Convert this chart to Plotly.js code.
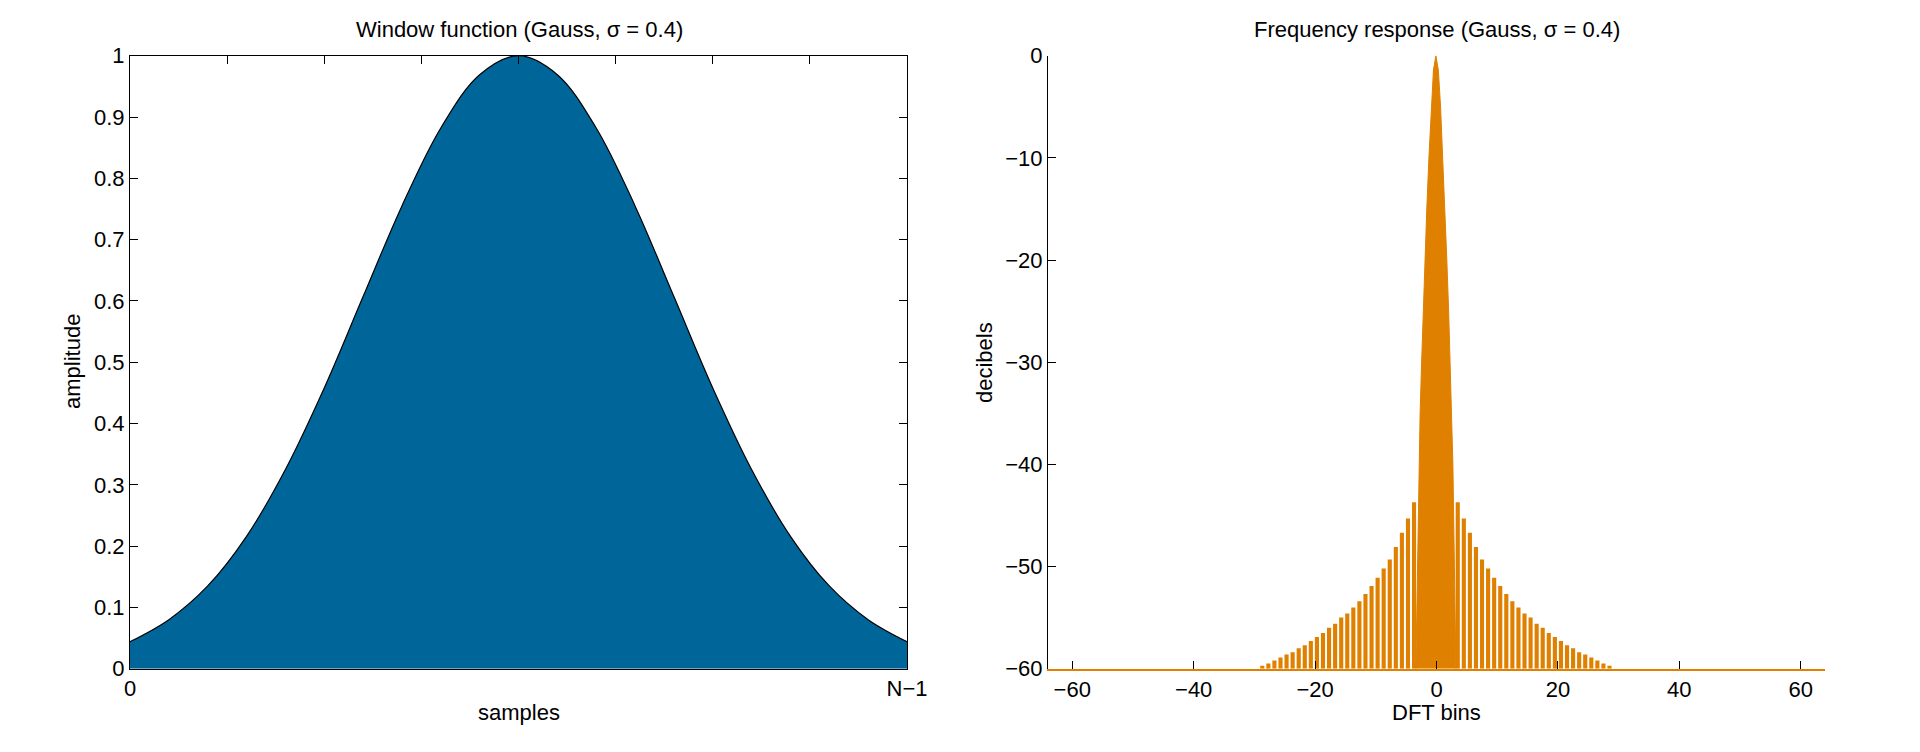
<!DOCTYPE html>
<html><head><meta charset="utf-8">
<script src="https://cdn.plot.ly/plotly-3.0.1.min.js"></script>
<style>html,body{margin:0;padding:0;background:#fff}#chart{width:1920px;height:752px}</style>
</head><body><div id="chart"></div>
<script>
// Window function (normalised sample position 0 .. N-1)
const windowX = [0,0.05,0.1,0.15,0.2,0.25,0.3,0.35,0.4,0.45,0.5,0.55,0.6,0.65,0.7,0.75,0.8,0.85,0.9,0.95,1];
const windowAmp = [0.044,0.080,0.135,0.216,0.325,0.458,0.607,0.755,0.882,0.969,1.000,0.969,0.882,0.755,0.607,0.458,0.325,0.216,0.135,0.080,0.044];
const windowTickVals = [0,0.125,0.25,0.375,0.5,0.625,0.75,0.875,1];
const windowTickText = ['0','N\u22121'];

// Frequency response: main lobe outline
const mainLobeBins = [-3.4,-3.15,-2.9,-2.7,-2.45,-2.2,-1.9,-1.6,-1.25,-0.87,-0.5,-0.1,0.3,0.67,1.05,1.4,1.7,2.0,2.25,2.5,2.7,2.95,3.2];
const mainLobeDb   = [-60,-50,-40,-35,-30,-25,-20,-15,-10,-5,-1.4,0,-1.4,-5,-10,-15,-20,-25,-30,-35,-40,-50,-60];

// Frequency response: side lobe peaks
const sidelobeBins = [
  -28.7,-27.7,-26.7,-25.7,-24.7,-23.7,-22.7,-21.7,-20.7,-19.7,-18.7,-17.7,-16.7,-15.7,-14.7,-13.7,-12.7,-11.7,-10.7,-9.7,-8.7,-7.7,-6.7,-5.7,-4.7,-3.7,
  3.5,4.5,5.5,6.5,7.5,8.5,9.5,10.5,11.5,12.5,13.5,14.5,15.5,16.5,17.5,18.5,19.5,20.5,21.5,22.5,23.5,24.5,25.5,26.5,27.5,28.5];
const sidelobeDb = [
  -59.7,-59.5,-59.2,-58.9,-58.6,-58.4,-58.0,-57.7,-57.3,-56.9,-56.5,-56.0,-55.6,-55.0,-54.6,-54.0,-53.4,-52.7,-51.9,-51.1,-50.2,-49.3,-48.1,-46.7,-45.3,-43.7,
  -43.7,-45.3,-46.7,-48.1,-49.3,-50.2,-51.1,-51.9,-52.7,-53.4,-54.0,-54.6,-55.0,-55.6,-56.0,-56.5,-56.9,-57.3,-57.7,-58.0,-58.4,-58.6,-58.9,-59.2,-59.5,-59.7];
const dbFloor = -60;
const binTicks = [-60,-40,-20,0,20,40,60];
const dbTicks = [-60,-50,-40,-30,-20,-10,0];

const BLUE = '#006699';
const ORANGE = '#df8000';
const FONT = {family:'"Liberation Sans", Arial, Helvetica, sans-serif', size:22, color:'#000'};

const traces = [
  {type:'scatter', x:windowX, y:windowAmp, mode:'lines', line:{color:'#000', width:1.2, shape:'spline'},
   fill:'tozeroy', fillcolor:BLUE, xaxis:'x', yaxis:'y', hoverinfo:'skip'},
  {type:'scatter', x:windowX, y:windowAmp, mode:'none', xaxis:'x3', yaxis:'y', hoverinfo:'skip'},
  {type:'bar', x:sidelobeBins, y:sidelobeDb.map(d => d - dbFloor), base:dbFloor, width:0.68,
   marker:{color:ORANGE, line:{width:0}}, xaxis:'x2', yaxis:'y2', hoverinfo:'skip'},
  {type:'scatter', x:mainLobeBins, y:mainLobeDb, mode:'lines', fill:'toself', fillcolor:ORANGE,
   line:{color:ORANGE, width:1}, xaxis:'x2', yaxis:'y2', hoverinfo:'skip'}
];

const yDom = [1-668.7/752, 1-55.7/752];
const layout = {
  width:1920, height:752, margin:{l:0,r:0,t:0,b:0},
  paper_bgcolor:'#fff', plot_bgcolor:'#fff', showlegend:false, font:FONT,
  xaxis:{domain:[130/1920, 907/1920], range:[0,1], anchor:'y', showgrid:false, zeroline:false,
    showline:true, mirror:true, linecolor:'#000', linewidth:1, ticks:'',
    tickvals:[0,1], ticktext:windowTickText, tickfont:FONT, ticklabelstandoff:0},
  xaxis3:{domain:[130/1920, 907/1920], range:[0,1], overlaying:'x', side:'top', anchor:'y',
    showgrid:false, zeroline:false, showline:false, ticks:'inside', ticklen:8, tickcolor:'#000',
    tickvals:windowTickVals, showticklabels:false},
  yaxis:{domain:yDom, range:[0,1], anchor:'x', showgrid:false, zeroline:false,
    showline:true, mirror:'ticks', linecolor:'#000', linewidth:1, ticks:'inside', ticklen:8, tickcolor:'#000',
    tick0:0, dtick:0.1, tickfont:FONT},
  xaxis2:{domain:[1048/1920, 1825/1920], range:[-64,64], anchor:'y2', showgrid:false, zeroline:false,
    showline:true, linecolor:ORANGE, linewidth:2, ticks:'inside', ticklen:8, tickcolor:'#000',
    tickvals:binTicks, tickfont:FONT, ticklabelstandoff:0},
  yaxis2:{domain:yDom, range:[-60,0], anchor:'x2', showgrid:false, zeroline:false,
    showline:true, linecolor:'#000', linewidth:1, ticks:'inside', ticklen:8, tickcolor:'#000',
    tickvals:dbTicks, tickfont:FONT},
  annotations:[
    {text:'Window function (Gauss, \u03c3 = 0.4)', xref:'paper', yref:'paper', x:519/1920, y:1-30/752, showarrow:false, font:FONT, xanchor:'center', yanchor:'middle'},
    {text:'Frequency response (Gauss, \u03c3 = 0.4)', xref:'paper', yref:'paper', x:1436.5/1920, y:1-30/752, showarrow:false, font:FONT, xanchor:'center', yanchor:'middle'},
    {text:'amplitude', xref:'paper', yref:'paper', x:72/1920, y:1-362/752, textangle:-90, showarrow:false, font:FONT, xanchor:'center', yanchor:'middle'},
    {text:'decibels', xref:'paper', yref:'paper', x:984/1920, y:1-362/752, textangle:-90, showarrow:false, font:FONT, xanchor:'center', yanchor:'middle'},
    {text:'samples', xref:'paper', yref:'paper', x:519/1920, y:1-712/752, showarrow:false, font:FONT, xanchor:'center', yanchor:'middle'},
    {text:'DFT bins', xref:'paper', yref:'paper', x:1436.5/1920, y:1-712/752, showarrow:false, font:FONT, xanchor:'center', yanchor:'middle'}
  ]
};
Plotly.newPlot('chart', traces, layout, {staticPlot:true, displayModeBar:false});
</script>
</body></html>
